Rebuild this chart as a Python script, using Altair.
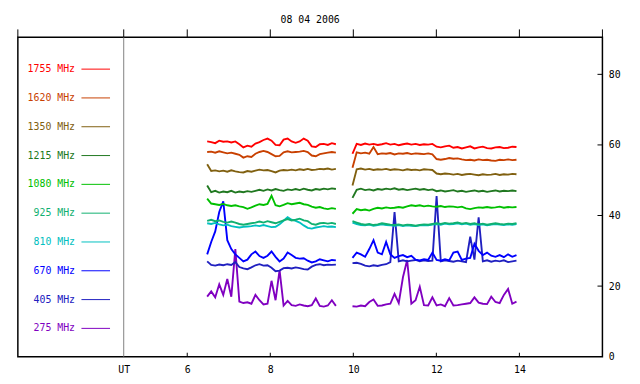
import altair as alt
import pandas as pd

title_text = "08 04 2006"
freqs = ["1755 MHz", "1620 MHz", "1350 MHz", "1215 MHz", "1080 MHz",
         "925 MHz", "810 MHz", "670 MHz", "405 MHz", "275 MHz"]
colors = ["#ff0000", "#c84000", "#806010", "#207820", "#00c000",
          "#10b070", "#00c0c0", "#0000ff", "#2020c0", "#8000c0"]

# sampling times (UT hours) of the two observing runs
start_a, end_a, n_a = 6.48, 9.58, 33
start_b, end_b, n_b = 9.98, 13.93, 40
hours_a = [round(start_a + (end_a - start_a) * i / (n_a - 1), 4) for i in range(n_a)]
hours_b = [round(start_b + (end_b - start_b) * i / (n_b - 1), 4) for i in range(n_b)]

f1755_a = [61.0, 60.8, 60.5, 61.2, 60.9, 61.0, 60.7, 61.0, 60.2, 59.3,
           59.8, 59.5, 60.4, 60.8, 61.4, 61.8, 61.2, 60.0, 59.9, 61.5,
           61.8, 61.0, 60.6, 61.0, 61.8, 61.2, 59.6, 59.4, 60.2, 60.3,
           60.0, 60.5, 60.2]
f1755_b = [57.5, 60.3, 60.0, 60.4, 60.1, 60.3, 60.0, 60.2, 60.5, 60.1,
           60.3, 59.9, 60.2, 60.4, 60.1, 60.3, 60.0, 60.2, 60.1, 60.3,
           59.5, 59.3, 59.6, 59.8, 59.2, 59.4, 59.0, 59.3, 59.6, 59.0,
           59.3, 59.5, 59.1, 59.0, 59.3, 59.4, 59.1, 59.2, 59.5, 59.4]
f1620_a = [58.0, 58.1, 57.8, 58.2, 57.9, 57.6, 57.8, 57.5, 57.2, 56.4,
           56.8, 56.6, 57.5, 58.0, 58.3, 58.0, 57.4, 56.8, 56.9, 57.9,
           58.2, 57.9, 58.0, 58.1, 58.3, 58.0, 57.0, 56.8, 57.4, 57.6,
           57.8, 58.0, 57.8]
f1620_b = [53.5, 57.9, 57.6, 57.8, 57.5, 59.4, 57.4, 57.6, 57.5, 57.7,
           57.3, 57.6, 57.5, 57.7, 57.4, 57.6, 57.5, 57.4, 57.6, 57.3,
           56.0, 55.8, 56.0, 56.3, 56.1, 56.2, 55.9, 55.7, 55.8, 55.6,
           55.9, 55.7, 55.8, 55.6, 55.5, 55.8, 55.7, 55.9, 55.7, 55.8]
f1350_a = [54.5, 52.6, 52.8, 52.5, 52.7, 52.4, 52.8, 52.5, 52.3, 52.2,
           52.6, 52.4, 52.7, 53.0, 52.8, 52.9, 52.6, 52.2, 52.7, 52.9,
           52.8, 53.0, 52.8, 53.1, 52.9, 53.2, 52.9, 53.0, 53.2, 53.1,
           53.3, 53.0, 53.2]
f1350_b = [48.5, 53.1, 53.3, 53.0, 53.2, 52.9, 53.1, 53.0, 53.2, 52.9,
           53.1, 53.0, 52.8, 53.1, 52.9, 53.0, 52.8, 53.1, 53.0, 52.9,
           51.9, 51.7, 51.9, 51.8, 51.6, 51.8, 51.5, 51.7, 51.8, 51.6,
           51.4, 51.7, 51.5, 51.6, 51.8, 51.5, 51.7, 51.6, 51.8, 51.7]
f1215_a = [48.5, 46.6, 47.0, 46.5, 46.8, 46.6, 47.0, 46.5, 46.8, 46.6,
           46.9, 46.7, 47.0, 47.3, 47.0, 47.4, 47.1, 47.5, 47.2, 47.0,
           47.4, 47.2, 47.5, 47.2, 47.6, 47.3, 47.1, 47.5, 47.3, 47.6,
           47.4, 47.7, 47.5]
f1215_b = [45.0, 47.3, 47.6, 47.2, 47.4, 47.1, 47.5, 47.3, 47.6, 47.4,
           47.7, 47.3, 47.5, 47.2, 47.4, 47.6, 47.3, 47.5, 47.2, 47.4,
           46.9, 47.1, 46.8, 47.0, 47.2, 46.8, 47.0, 46.7, 46.9, 47.1,
           46.8, 47.0, 46.7, 46.9, 47.1, 46.8, 47.0, 46.9, 47.1, 46.9]
f1080_a = [44.8, 43.4, 43.2, 43.0, 43.3, 42.9, 42.7, 42.9, 42.6, 42.4,
           41.9, 42.3, 42.8, 43.2, 43.0, 43.3, 45.6, 42.9, 42.6, 43.0,
           43.5, 43.2, 43.4, 43.6, 43.2, 43.0, 42.5, 42.2, 42.4, 42.0,
           41.8, 42.1, 41.9]
f1080_b = [40.5, 41.8, 41.5, 41.7, 41.4, 41.9, 42.2, 42.0, 42.3, 42.1,
           42.2, 42.4, 42.2, 42.6, 42.9, 42.7, 42.9, 42.6, 42.8, 42.6,
           42.5, 42.7, 42.4, 42.6, 42.5, 42.3, 42.5, 42.0, 41.8, 42.1,
           42.3, 42.2, 42.4, 42.2, 42.3, 42.5, 42.2, 42.4, 42.3, 42.4]
f925_a = [38.5, 38.8, 38.4, 38.6, 38.2, 38.0, 38.3, 38.0, 37.6, 37.4,
          37.6, 37.8, 38.0, 38.3, 38.0, 38.4, 38.1, 37.8, 38.2, 38.6,
          39.0, 38.6, 38.8, 39.1, 38.6, 38.4, 37.6, 37.4, 37.8, 37.9,
          37.7, 37.9, 37.6]
f925_b = [38.4, 38.0, 37.6, 37.4, 37.6, 37.3, 37.5, 37.8, 37.6, 37.4,
          37.3, 37.5, 37.2, 37.4, 37.3, 37.1, 37.3, 37.5, 37.4, 37.6,
          37.8, 37.6, 37.9, 37.7, 37.8, 38.0, 37.7, 37.9, 37.6, 37.8,
          37.5, 37.7, 37.4, 37.6, 37.8, 37.6, 37.5, 37.7, 37.6, 37.8]
f810_a = [37.8, 37.6, 37.9, 37.5, 37.2, 37.4, 37.0, 36.8, 36.6, 36.8,
          36.9, 37.0, 37.2, 37.0, 37.3, 37.0, 36.7, 36.8, 37.5, 38.5,
          39.5, 38.8, 38.5, 38.0, 37.2, 36.5, 36.3, 36.6, 36.8, 37.0,
          36.8, 36.9, 36.7]
f810_b = [38.0, 37.6, 37.3, 37.2, 37.4, 37.1, 37.3, 37.5, 37.3, 37.2,
          37.1, 37.3, 37.0, 37.2, 37.1, 37.0, 37.2, 37.3, 37.2, 37.4,
          37.6, 37.4, 37.7, 37.5, 37.6, 37.8, 37.5, 37.7, 37.4, 37.6,
          37.3, 37.5, 37.2, 37.4, 37.6, 37.4, 37.3, 37.5, 37.4, 37.6]
f670_a = [29.0, 32.5, 35.5, 41.0, 44.0, 33.0, 30.5, 29.0, 28.0, 27.0,
          27.5, 29.0, 29.8, 28.5, 28.0, 28.6, 29.8, 28.3, 27.0, 27.8,
          29.5, 28.8, 28.0, 27.8, 27.9, 27.2, 26.7, 27.0, 27.6, 27.3,
          27.0, 27.4, 27.3]
f670_b = [28.0, 29.5, 29.0, 28.3, 30.5, 33.0, 29.5, 29.0, 32.5, 29.0,
          28.0, 28.5, 28.8, 28.2, 28.6, 27.5, 27.3, 27.6, 27.4, 29.5,
          27.4, 27.2, 27.6, 27.3, 29.5, 29.8, 27.4, 27.8, 28.0, 32.0,
          30.0, 28.8, 29.5, 28.6, 28.3, 28.8, 28.2, 29.0, 28.3, 28.8]
f405_a = [27.0, 26.0, 25.8, 26.1, 25.9, 26.2, 26.0, 26.8, 25.4, 25.0,
          24.8, 25.3, 25.9, 26.2, 25.8, 25.9, 25.2, 24.2, 24.4, 25.1,
          25.2, 25.0, 25.3, 25.1, 24.8, 24.7, 25.5, 26.0, 26.2, 25.9,
          26.1, 26.0, 26.1]
f405_b = [26.5, 26.6, 26.3, 25.8, 25.6, 25.9, 25.7, 26.0, 26.2, 26.8,
          41.0, 27.0, 27.3, 27.0, 27.2, 27.4, 27.0, 27.3, 27.1, 27.2,
          45.5, 27.0, 27.3, 27.1, 26.9, 27.2, 27.0, 26.8, 34.0, 27.5,
          39.5, 27.0, 27.3, 26.9, 27.2, 27.0, 27.3, 26.8, 27.0, 27.2]
f275_a = [17.0, 18.5, 16.8, 20.5, 17.5, 22.0, 17.0, 30.5, 15.6, 15.2,
          15.4, 15.0, 17.5, 16.0, 14.8, 15.0, 21.5, 16.0, 24.5, 14.5,
          15.8, 14.6, 14.4, 14.8, 14.5, 14.3, 14.6, 16.5, 14.4, 14.2,
          14.5, 16.0, 14.4]
f275_b = [14.3, 14.2, 14.5, 14.3, 15.5, 16.2, 14.4, 14.5, 14.8, 15.0,
          17.8, 15.2, 22.5, 27.4, 15.0, 16.0, 19.8, 14.6, 14.5, 16.8,
          14.5, 14.8, 14.3, 16.6, 14.5, 14.6, 14.8, 15.0, 15.2, 16.8,
          15.3, 15.0, 14.9, 17.0, 15.5, 15.2, 17.5, 19.2, 15.0, 15.6]

series = [
    ("275 MHz", f275_a, f275_b), ("405 MHz", f405_a, f405_b),
    ("670 MHz", f670_a, f670_b), ("810 MHz", f810_a, f810_b),
    ("925 MHz", f925_a, f925_b), ("1080 MHz", f1080_a, f1080_b),
    ("1215 MHz", f1215_a, f1215_b), ("1350 MHz", f1350_a, f1350_b),
    ("1620 MHz", f1620_a, f1620_b), ("1755 MHz", f1755_a, f1755_b),
]

x_domain = [1.92, 16.0]
y_domain = [0, 90.5]
ut_hour = 4.47
bottom_ticks = [6, 8, 10, 12, 14]
top_ticks = [1.92, 4.47, 6, 8, 10, 12, 14, 16]
right_ticks = [20, 40, 60, 80]

W, H = 593, 324
FONT = "DejaVu Sans Mono"

rows = []
for name, a, b in series:
    for h, v in zip(hours_a, a):
        rows.append({"hour": h, "value": v, "freq": name, "seg": name + "-a"})
    for h, v in zip(hours_b, b):
        rows.append({"hour": h, "value": v, "freq": name, "seg": name + "-b"})
df = pd.DataFrame(rows)

color_scale = alt.Scale(domain=freqs, range=colors)

lines = alt.Chart(df).mark_line(strokeWidth=1.9).encode(
    x=alt.X("hour:Q",
            scale=alt.Scale(domain=x_domain, nice=False, zero=False),
            axis=alt.Axis(orient="bottom", values=[ut_hour] + bottom_ticks,
                          labelExpr="datum.value < 5 ? 'UT' : datum.label",
                          ticks=False, domain=False, grid=False,
                          labelPadding=8, title=None)),
    y=alt.Y("value:Q",
            scale=alt.Scale(domain=y_domain, nice=False, zero=False),
            axis=alt.Axis(orient="right", values=[0, 20, 40, 60, 80],
                          ticks=False, domain=False, grid=False,
                          labelPadding=6, title=None)),
    color=alt.Color("freq:N", scale=color_scale, legend=None),
    detail="seg:N",
)

ut_rule = alt.Chart(pd.DataFrame({"hour": [ut_hour]})).mark_rule(
    color="#808080", strokeWidth=1).encode(
    x="hour:Q", y=alt.value(0), y2=alt.value(H))

top_tick_marks = alt.Chart(pd.DataFrame({"hour": top_ticks})).mark_rule(
    color="black", strokeWidth=1).encode(
    x="hour:Q", y=alt.value(-8), y2=alt.value(0))

bottom_tick_marks = alt.Chart(pd.DataFrame({"hour": bottom_ticks})).mark_rule(
    color="black", strokeWidth=1).encode(
    x="hour:Q", y=alt.value(H - 4), y2=alt.value(H))

right_tick_marks = alt.Chart(pd.DataFrame({"value": right_ticks})).mark_rule(
    color="black", strokeWidth=1).encode(
    y="value:Q", x=alt.value(W - 5), x2=alt.value(W))

main = alt.layer(ut_rule, lines, top_tick_marks, bottom_tick_marks, right_tick_marks)

legend_df = pd.DataFrame({"freq": freqs, "row": list(range(len(freqs)))})
row_y = alt.Y("row:Q", scale=alt.Scale(domain=[0, 9], range=[32.3, 295.3]), axis=None)

legend_text = alt.Chart(legend_df).mark_text(
    align="right", baseline="middle", font=FONT, fontSize=10).encode(
    x=alt.value(58), y=row_y,
    text="freq:N",
    color=alt.Color("freq:N", scale=color_scale, legend=None))

legend_line = alt.Chart(legend_df).mark_rule(strokeWidth=1).encode(
    x=alt.value(64.5), x2=alt.value(93.5), y=row_y,
    color=alt.Color("freq:N", scale=color_scale, legend=None))

legend = alt.layer(legend_text, legend_line)

chart = alt.layer(main, legend).resolve_scale(y="independent").properties(
    width=W, height=H,
    title=alt.TitleParams(title_text, font=FONT, fontSize=10, fontWeight="normal",
                          anchor="middle", color="black", offset=4),
    autosize=alt.AutoSizeParams(type="none"),
    padding={"left": 10, "top": 27, "right": 30, "bottom": 25},
).configure_view(stroke="black", strokeWidth=1.5).configure_axis(
    labelFont=FONT, labelFontSize=10, labelColor="black"
)

chart.save("out.html", embed_options={"renderer": "svg", "actions": False})
